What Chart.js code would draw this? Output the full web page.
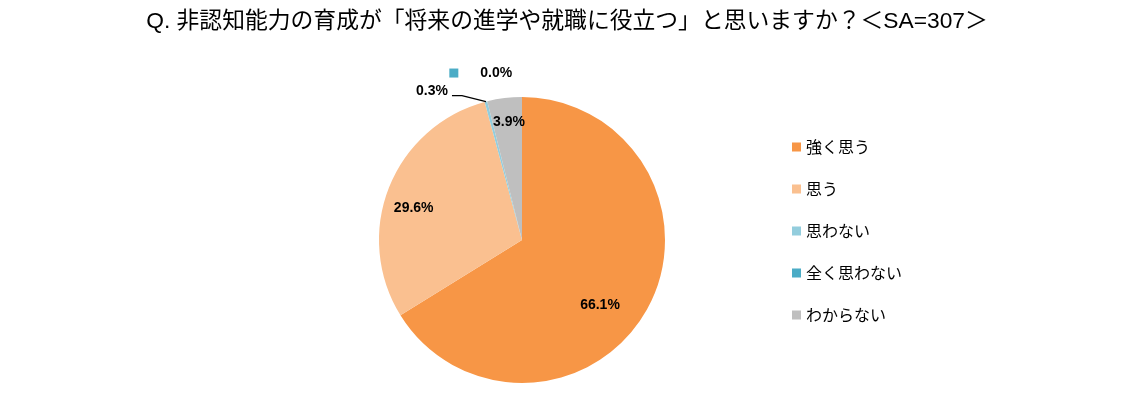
<!DOCTYPE html>
<html lang="ja">
<head>
<meta charset="utf-8">
<title>非認知能力の育成</title>
<script src="https://cdn.jsdelivr.net/npm/chart.js@4.4.1/dist/chart.umd.min.js"></script>
<style>
  html, body { margin: 0; padding: 0; background: #fff; }
  #wrap { width: 1134px; height: 399px; }
</style>
</head>
<body>
<div id="wrap"><canvas id="graficoTorta" width="1134" height="399"></canvas></div>
<script>
// ---- datos del gráfico ----
const categorias = ['強く思う', '思う', '思わない', '全く思わない', 'わからない'];
const porcentajes = [66.1, 29.6, 0.3, 0.0, 3.9];
const colores = ['#F79646', '#FAC090', '#93CDDD', '#4BACC6', '#BFBFBF'];
const titulo = 'Q. 非認知能力の育成が「将来の進学や就職に役立つ」と思いますか？＜SA=307＞';

const fuenteLatina = "'Liberation Sans', 'Noto Sans CJK JP', Arial, sans-serif";
const fuenteJP = "'Noto Sans CJK JP', 'Liberation Sans', sans-serif";

// título (dibujado a mano para que no lo comprima el área del gráfico)
const tituloPlugin = {
  id: 'tituloLibre',
  afterDraw(chart, args, opts) {
    const ctx = chart.ctx;
    ctx.save();
    ctx.font = opts.size + 'px ' + fuenteLatina;
    ctx.fillStyle = '#000';
    ctx.textAlign = 'center';
    ctx.textBaseline = 'middle';
    ctx.fillText(opts.text, chart.width / 2, opts.y);
    ctx.restore();
  }
};

// etiquetas de porcentaje (estilo Excel: dentro, con guía, o con marcador si es 0)
const etiquetasPlugin = {
  id: 'etiquetas',
  afterDatasetsDraw(chart, args, opts) {
    const ctx = chart.ctx;
    const meta = chart.getDatasetMeta(0);
    const valores = chart.data.datasets[0].data;
    ctx.save();
    ctx.font = 'bold 14px ' + fuenteLatina;
    ctx.fillStyle = '#000';
    ctx.textBaseline = 'middle';
    meta.data.forEach((arc, i) => {
      const v = valores[i];
      const txt = v.toFixed(1) + '%';
      const r = arc.outerRadius;
      const mid = (arc.startAngle + arc.endAngle) / 2;
      if (v >= 1) {
        const f = opts.radios[i] || 0.75;
        const a = mid + (opts.giros[i] || 0) * Math.PI / 180;
        ctx.textAlign = 'center';
        ctx.fillText(txt, arc.x + Math.cos(a) * r * f, arc.y + Math.sin(a) * r * f);
      } else if (v > 0) {
        // etiqueta fuera con línea guía
        const ex = arc.x + Math.cos(mid) * r;
        const ey = arc.y + Math.sin(mid) * r;
        ctx.strokeStyle = '#000';
        ctx.lineWidth = 1.2;
        ctx.beginPath();
        ctx.moveTo(ex, ey);
        ctx.lineTo(ex - 24, ey - 6);
        ctx.lineTo(ex - 34, ey - 6);
        ctx.stroke();
        ctx.textAlign = 'right';
        ctx.fillText(txt, ex - 38, ey - 10);
      } else {
        // valor cero: etiqueta arriba con la clave de la serie
        const lx = arc.x + Math.cos(mid) * r * 1.2;
        const ly = arc.y + Math.sin(mid) * r * 1.2;
        ctx.textAlign = 'left';
        ctx.fillText(txt, lx, ly);
        ctx.fillStyle = chart.data.datasets[0].backgroundColor[i];
        ctx.fillRect(lx - 31, ly - 5, 9, 9);
        ctx.fillStyle = '#000';
      }
    });
    ctx.restore();
  }
};

// leyenda lateral
const leyendaPlugin = {
  id: 'leyendaLateral',
  afterDraw(chart, args, opts) {
    const ctx = chart.ctx;
    const ds = chart.data.datasets[0];
    ctx.save();
    ctx.font = '16px ' + fuenteJP;
    ctx.textBaseline = 'middle';
    ctx.textAlign = 'left';
    chart.data.labels.forEach((lab, i) => {
      const y = opts.y + i * opts.paso;
      ctx.fillStyle = ds.backgroundColor[i];
      ctx.fillRect(opts.x, y - 4.5, 9, 9);
      ctx.fillStyle = '#000';
      ctx.fillText(lab, opts.x + 14, y);
    });
    ctx.restore();
  }
};

new Chart(document.getElementById('graficoTorta'), {
  type: 'pie',
  data: {
    labels: categorias,
    datasets: [{
      data: porcentajes,
      backgroundColor: colores,
      borderWidth: 0
    }]
  },
  options: {
    responsive: false,
    animation: false,
    events: [],
    layout: { padding: { left: 0, right: 90, top: 97, bottom: 16 } },
    plugins: {
      legend: { display: false },
      tooltip: { enabled: false },
      title: { display: false },
      tituloLibre: { text: titulo, size: 22.8, y: 22 },
      etiquetas: { radios: [0.71, 0.79, 0, 0, 0.83], giros: [10.7, -5, 0, 0, 0.7] },
      leyendaLateral: { x: 792, y: 147, paso: 42 }
    }
  },
  plugins: [tituloPlugin, etiquetasPlugin, leyendaPlugin]
});
</script>
</body>
</html>
